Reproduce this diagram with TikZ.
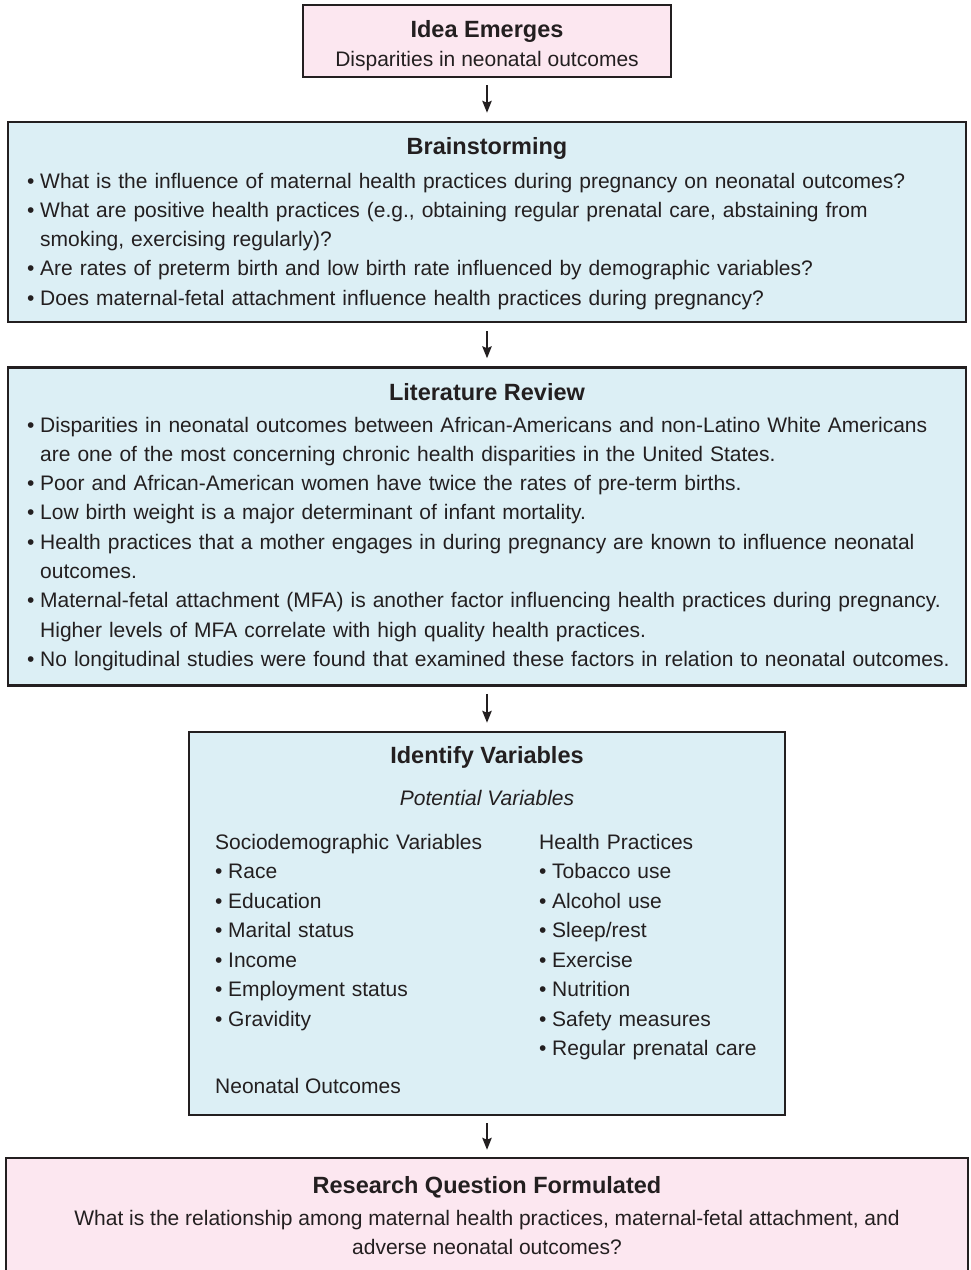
\documentclass[tikz,border=0pt]{standalone}
\usepackage{fontspec}
\setmainfont{Liberation Sans}
\usetikzlibrary{arrows.meta}

\definecolor{pinkfill}{RGB}{252,231,240}
\definecolor{bluefill}{RGB}{220,239,245}
\definecolor{ink}{RGB}{35,31,32}

\newcommand\bodyfont{\fontsize{21}{29.3}\selectfont}
\newcommand\headfont{\fontsize{23.5}{28}\selectfont\bfseries}
% first bulleted paragraph of a list, with a hanging indent
\newcommand\bfirst{\hangindent=13pt\hangafter=1\makebox[13pt][l]{•}}
% every further bulleted paragraph
\newcommand\bitem{\par\hangindent=13pt\hangafter=1\noindent\makebox[13pt][l]{•}}

\begin{document}
\begin{tikzpicture}[x=1pt, y=-1pt,
  box/.style={draw=ink, line width=2.5pt, rectangle, inner sep=0pt},
  pinkbox/.style={box, fill=pinkfill},
  bluebox/.style={box, fill=bluefill},
  head/.style={anchor=base, font=\headfont, text=ink, inner sep=0pt},
  textline/.style={anchor=base, font=\bodyfont, text=ink, inner sep=0pt},
  leftline/.style={anchor=base west, font=\bodyfont, text=ink, inner sep=0pt},
  bullets/.style={anchor=base west, font=\bodyfont, text=ink, inner sep=0pt, align=left},
  flow/.style={draw=ink, line width=1.6pt, -{Stealth[length=12pt, width=9.5pt, inset=2pt]}}]

\useasboundingbox (0,0) rectangle (970,1270);

% ---- Idea Emerges
\node[pinkbox, minimum width=368pt, minimum height=72pt] (idea) at (487,41) {};
\node[head] (ideaT) at (487,37) {Idea Emerges};
\node[textline] (ideaS) at (487,66) {Disparities in neonatal outcomes};

% ---- Brainstorming
\node[bluebox, minimum width=958pt, minimum height=200pt] (brain) at (487,222) {};
\node[head] (brainT) at (487,154) {Brainstorming};
\node[bullets, text width=935pt] (brainL) at (27,188) {%
\bfirst What is the influence of maternal health practices during pregnancy on neonatal outcomes?
\bitem What are positive health practices (e.g., obtaining regular prenatal care, abstaining from\newline smoking, exercising regularly)?
\bitem Are rates of preterm birth and low birth rate influenced by demographic variables?
\bitem Does maternal-fetal attachment influence health practices during pregnancy?};

% ---- Literature Review
\node[bluebox, minimum width=958pt, minimum height=318pt] (lit) at (487,526.5) {};
\node[head] (litT) at (487,400) {Literature Review};
\node[bullets, text width=938pt] (litL) at (27,432) {%
\bfirst Disparities in neonatal outcomes between African-Americans and non-Latino White Americans\newline are one of the most concerning chronic health disparities in the United States.
\bitem Poor and African-American women have twice the rates of pre-term births.
\bitem Low birth weight is a major determinant of infant mortality.
\bitem Health practices that a mother engages in during pregnancy are known to influence neonatal\newline outcomes.
\bitem Maternal-fetal attachment (MFA) is another factor influencing health practices during pregnancy.\newline Higher levels of MFA correlate with high quality health practices.
\bitem No longitudinal studies were found that examined these factors in relation to neonatal outcomes.};

% ---- Identify Variables
\node[bluebox, minimum width=596pt, minimum height=383pt] (vars) at (487,923.5) {};
\node[head] (varsT) at (487,763) {Identify Variables};
\node[textline, font=\bodyfont\itshape] (varsP) at (487,805) {Potential Variables};
\node[bullets, text width=300pt, font=\fontsize{21}{29.5}\selectfont] (socio) at (215,849) {%
\noindent Sociodemographic Variables
\bitem Race
\bitem Education
\bitem Marital status
\bitem Income
\bitem Employment status
\bitem Gravidity};
\node[bullets, text width=240pt, font=\fontsize{21}{29.5}\selectfont] (health) at (539,849) {%
\noindent Health Practices
\bitem Tobacco use
\bitem Alcohol use
\bitem Sleep/rest
\bitem Exercise
\bitem Nutrition
\bitem Safety measures
\bitem Regular prenatal care};
\node[leftline] (neo) at (215,1093) {Neonatal Outcomes};

% ---- Research Question Formulated
\node[pinkbox, minimum width=962pt, minimum height=140pt] (question) at (487,1228) {};
\node[head] (questionT) at (487,1193) {Research Question Formulated};
\node[textline] (questionA) at (487,1225) {What is the relationship among maternal health practices, maternal-fetal attachment, and};
\node[textline] (questionB) at (487,1254.5) {adverse neonatal outcomes?};

% ---- connectors
\draw[flow] ([yshift=-7pt]idea.south) -- ([yshift=8pt]brain.north);
\draw[flow] ([yshift=-8pt]brain.south) -- ([yshift=8pt]lit.north);
\draw[flow] ([yshift=-7pt]lit.south) -- ([yshift=8pt]vars.north);
\draw[flow] ([yshift=-7pt]vars.south) -- ([yshift=7pt]question.north);
\end{tikzpicture}
\end{document}
